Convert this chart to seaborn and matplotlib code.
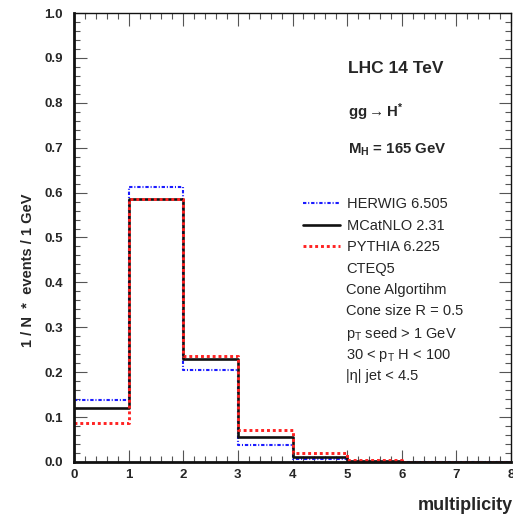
import numpy as np
import matplotlib
matplotlib.use("Agg")
import matplotlib.pyplot as plt
from matplotlib.ticker import MultipleLocator
from matplotlib.lines import Line2D
import seaborn as sns

# Jet multiplicity, normalised to unit area (one bin per jet count)
bin_edges = [0, 1, 2, 3, 4, 5, 6, 7, 8]
herwig = [0.137, 0.613, 0.205, 0.038, 0.007, 0.001, 0.0003, 0.0001]
mcatnlo = [0.120, 0.585, 0.229, 0.055, 0.012, 0.002, 0.0005, 0.0002]
pythia = [0.086, 0.585, 0.237, 0.071, 0.019, 0.004, 0.001, 0.0005]

series_labels = ["HERWIG 6.505", "MCatNLO 2.31", "PYTHIA 6.225"]
info_lines = [
    "CTEQ5",
    "Cone Algortihm",
    "Cone size R = 0.5",
    r"p$_\mathregular{T}$ seed > 1 GeV",
    r"30 < p$_\mathregular{T}$ H < 100",
    "|η| jet < 4.5",
]

sns.set_style("ticks")
plt.rcParams["font.family"] = ["Liberation Sans", "DejaVu Sans"]
plt.rcParams["mathtext.fontset"] = "custom"
plt.rcParams["mathtext.rm"] = "Liberation Sans"
plt.rcParams["mathtext.bf"] = "Liberation Sans:bold"
plt.rcParams["mathtext.it"] = "Liberation Sans:italic"

fig = plt.figure(figsize=(5.13, 5.17), dpi=100)
ax = fig.add_axes([74 / 513, 55 / 517, 437 / 513, 449 / 517])

centers = np.array(bin_edges[:-1]) + 0.5
styles = [
    (herwig, "#1a1aff", (0, (1.6, 0.9, 0.5, 0.9)), 1.5),
    (mcatnlo, "#111111", "-", 1.9),
    (pythia, "#ff2222", (0, (1.0, 1.0)), 2.1),
]
handles = []
for vals, col, ls, lw in styles:
    sns.histplot(x=centers, weights=vals, bins=bin_edges, element="step",
                 fill=False, color=col, linestyle=ls, linewidth=lw, ax=ax)
    handles.append(Line2D([], [], color=col, linestyle=ls, linewidth=lw))

ax.set_xlim(0, 8)
ax.set_ylim(0, 1.0)

ax.xaxis.set_major_locator(MultipleLocator(1))
ax.xaxis.set_minor_locator(MultipleLocator(0.2))
ax.yaxis.set_major_locator(MultipleLocator(0.1))
ax.yaxis.set_minor_locator(MultipleLocator(0.02))
ax.yaxis.set_major_formatter(matplotlib.ticker.FormatStrFormatter("%.1f"))

ax.tick_params(which="both", direction="in", top=True, right=True,
               color="#555555", width=0.8)
ax.tick_params(which="major", length=9)
ax.tick_params(which="minor", length=4)
ax.tick_params(axis="y", which="major", pad=8, labelsize=9.5)
ax.tick_params(axis="x", which="major", pad=5, labelsize=9.5)
for lab in ax.get_xticklabels() + ax.get_yticklabels():
    lab.set_fontweight("bold")

for side in ("left", "bottom"):
    ax.spines[side].set_linewidth(2.0)
for side in ("top", "right"):
    ax.spines[side].set_linewidth(1.0)
for sp in ax.spines.values():
    sp.set_color("#111111")

ax.set_ylabel("1 / N  *  events / 1 GeV", fontsize=10.5, fontweight="bold")
ax.yaxis.set_label_coords(-0.105, 0.428)
ax.yaxis.label.set_va("center")

ax.set_xlabel("multiplicity", fontsize=13, fontweight="bold", loc="right")
ax.xaxis.set_label_coords(1.005, -0.096)
ax.xaxis.label.set_va("center")

# Run conditions
ax.text(0.627, 0.877, "LHC 14 TeV", transform=ax.transAxes, fontsize=12.5,
        fontweight="bold", va="center", ha="left")
ax.text(0.627, 0.780, r"gg$\rightarrow$H$^{\mathbf{*}}$", transform=ax.transAxes,
        fontsize=10.8, fontweight="bold", va="center", ha="left")
ax.text(0.627, 0.695, r"M$_\mathbf{H}$ = 165 GeV", transform=ax.transAxes,
        fontsize=10.8, fontweight="bold", va="center", ha="left")

ax.legend(handles, series_labels,
          loc="upper left", bbox_to_anchor=(0.524, 0.590),
          frameon=False, fontsize=10.5, borderpad=0, borderaxespad=0,
          handlelength=2.55, handletextpad=0.45, labelspacing=0.52)

# Selection details listed under the legend, evenly spaced
for i, line in enumerate(info_lines):
    ax.text(0.622, 0.434 - i * 0.0477, line, transform=ax.transAxes,
            fontsize=10.5, va="center_baseline", ha="left")

fig.savefig("out.png", dpi=100)
